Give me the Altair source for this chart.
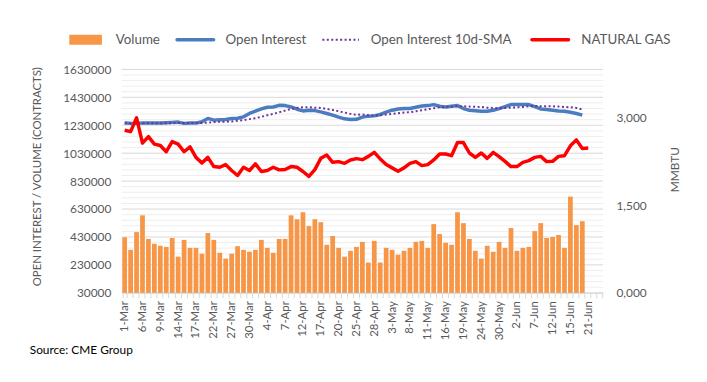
import json
import altair as alt
import pandas as pd

# ---------------- data ----------------
dates = [
    "1-Mar", "2-Mar", "3-Mar", "6-Mar", "7-Mar", "8-Mar", "9-Mar", "10-Mar", "13-Mar", "14-Mar",
    "15-Mar", "16-Mar", "17-Mar", "20-Mar", "21-Mar", "22-Mar", "23-Mar", "24-Mar", "27-Mar", "28-Mar",
    "29-Mar", "30-Mar", "31-Mar",
    "3-Apr", "4-Apr", "5-Apr", "6-Apr", "7-Apr", "10-Apr", "11-Apr", "12-Apr", "13-Apr", "14-Apr",
    "17-Apr", "18-Apr", "19-Apr", "20-Apr", "21-Apr", "24-Apr", "25-Apr", "26-Apr", "27-Apr", "28-Apr",
    "1-May", "2-May", "3-May", "4-May", "5-May", "8-May", "9-May", "10-May", "11-May", "12-May",
    "15-May", "16-May", "17-May", "18-May", "19-May", "22-May", "23-May", "24-May", "25-May", "26-May",
    "30-May", "31-May",
    "1-Jun", "2-Jun", "5-Jun", "6-Jun", "7-Jun", "8-Jun", "9-Jun", "12-Jun", "13-Jun", "14-Jun",
    "15-Jun", "16-Jun", "20-Jun", "21-Jun", "22-Jun", "23-Jun",
]

tick_labels = [
    "1-Mar", "6-Mar", "9-Mar", "14-Mar", "17-Mar", "22-Mar", "27-Mar", "30-Mar", "4-Apr", "7-Apr",
    "12-Apr", "17-Apr", "20-Apr", "25-Apr", "28-Apr", "3-May", "8-May", "11-May", "16-May", "19-May",
    "24-May", "30-May", "2-Jun", "7-Jun", "12-Jun", "15-Jun", "21-Jun",
]

volume = [
    428000, 338000, 465000, 585000, 416000, 381000, 367000, 359000, 423000, 289000,
    409000, 352000, 352000, 310000, 458000, 409000, 317000, 275000, 310000, 364000,
    338000, 324000, 338000, 409000, 352000, 317000, 416000, 416000, 585000, 557000,
    607000, 508000, 557000, 536000, 374000, 437000, 352000, 289000, 331000, 359000,
    395000, 247000, 402000, 247000, 352000, 338000, 303000, 331000, 352000, 395000,
    402000, 352000, 522000, 451000, 388000, 374000, 607000, 529000, 416000, 331000,
    275000, 367000, 324000, 395000, 352000, 494000, 331000, 352000, 359000, 472000,
    529000, 423000, 430000, 444000, 352000, 719000, 515000, 543000,
]

open_interest = [
    1248000, 1243500, 1243500, 1245600, 1245600, 1245600, 1245600, 1247800, 1250600, 1252700,
    1243500, 1245600, 1245600, 1254800, 1278900, 1266900, 1269000, 1271800, 1278900, 1280000,
    1290200, 1314300, 1330600, 1346900, 1358900, 1361000, 1373000, 1370900, 1361000, 1344800,
    1332700, 1337700, 1335000, 1325600, 1314300, 1302300, 1288100, 1276100, 1271800, 1273000,
    1288100, 1295200, 1297300, 1307200, 1323500, 1337700, 1346900, 1349700, 1349700, 1358900,
    1368100, 1370900, 1378000, 1366000, 1361000, 1366000, 1370900, 1349700, 1337700, 1334000,
    1330600, 1330600, 1337700, 1349700, 1363900, 1378000, 1378000, 1378000, 1378000, 1363900,
    1346900, 1342600, 1337700, 1332700, 1330600, 1323500, 1314300, 1302300,
]

oi_sma = [
    1243500, 1243000, 1243000, 1243500, 1244000, 1244000, 1244500, 1244500, 1245000, 1245500,
    1245500, 1245500, 1246000, 1246500, 1248000, 1252700, 1254800, 1255500, 1257000, 1263000,
    1266900, 1274000, 1281000, 1290200, 1302300, 1311500, 1323500, 1335000, 1346900, 1354000,
    1358900, 1358900, 1356000, 1354000, 1346900, 1339800, 1330600, 1321000, 1311500, 1305000,
    1307200, 1302300, 1300000, 1302300, 1307200, 1311500, 1316400, 1321000, 1323500, 1330600,
    1337700, 1344800, 1351800, 1358900, 1361000, 1363900, 1366000, 1366000, 1363900, 1362000,
    1361000, 1356000, 1354000, 1351800, 1354000, 1356000, 1358900, 1361000, 1366000, 1368100,
    1366000, 1366000, 1366000, 1363900, 1361000, 1358900, 1354000, 1342600,
]

nat_gas = [
    2.786, 2.763, 3.000, 2.566, 2.678, 2.549, 2.526, 2.419, 2.593, 2.549,
    2.419, 2.503, 2.322, 2.227, 2.322, 2.164, 2.153, 2.198, 2.097, 2.012,
    2.153, 2.097, 2.210, 2.080, 2.097, 2.153, 2.108, 2.113, 2.164, 2.153,
    2.080, 1.995, 2.113, 2.305, 2.363, 2.237, 2.249, 2.220, 2.278, 2.300,
    2.283, 2.339, 2.407, 2.295, 2.198, 2.142, 2.085, 2.142, 2.220, 2.249,
    2.181, 2.198, 2.278, 2.380, 2.380, 2.351, 2.576, 2.576, 2.397, 2.322,
    2.397, 2.305, 2.407, 2.334, 2.254, 2.164, 2.164, 2.237, 2.266, 2.322,
    2.339, 2.249, 2.254, 2.339, 2.351, 2.520, 2.622, 2.475, 2.481,
]

left_ticks = [30000, 230000, 430000, 630000, 830000, 1030000, 1230000, 1430000, 1630000]
right_ticks = [0, 1.5, 3.0]

# ---------------- styling ----------------
W, H = 487, 226
FONT = "Lato"
GREY = "#595959"
ORANGE = "#F79646"
BLUE = "#4A7DC0"
PURPLE = "#7030A0"
RED = "#FF0000"

vdf = pd.DataFrame({"date": dates[:len(volume)], "volume": volume})
oidf = pd.DataFrame({"date": dates[:len(open_interest)], "oi": open_interest, "sma": oi_sma})
gdf = pd.DataFrame({"date": dates[:len(nat_gas)], "gas": nat_gas})
gvals = list(range(30000, 1630001, 40000))
grid_df = pd.DataFrame({"v": gvals, "major": [(v - 30000) % 200000 == 0 for v in gvals]})

xscale = alt.Scale(domain=dates, paddingInner=0.2, paddingOuter=0.1)
label_expr = "indexof(" + json.dumps(tick_labels) + ", datum.value) >= 0 ? datum.value : ''"
xaxis = alt.Axis(
    title=None, labelExpr=label_expr, labelAngle=270, labelAlign="right", labelBaseline="middle",
    tickBand="extent", tickSize=5, tickColor="#D9D9D9", domainColor="#D9D9D9",
    labelPadding=3, labelFontSize=11.5, labelOverlap=False, grid=False,
)
X = alt.X("date:N", scale=xscale, axis=xaxis)

yL_scale = alt.Scale(domain=[30000, 1630000], nice=False, zero=False)
yL_axis = alt.Axis(
    values=left_ticks, format="d", grid=False, ticks=False, domain=False,
    labelPadding=11, labelFontSize=12, title="OPEN INTEREST / VOLUME (CONTRACTS)",
    titleFontSize=11.5, titleFontWeight="normal", titlePadding=20, titleY=108,
)

grid = alt.Chart(grid_df).mark_rule(strokeWidth=1).encode(
    y=alt.Y("v:Q", scale=yL_scale, axis=yL_axis),
    color=alt.condition("datum.major", alt.value("#D9D9D9"), alt.value("#EEEEEE")),
)
bars = alt.Chart(vdf).mark_bar(color=ORANGE).encode(
    x=X, y=alt.Y("volume:Q", scale=yL_scale, axis=yL_axis), y2=alt.datum(30000)
)
oi_line = alt.Chart(oidf).mark_line(color=BLUE, strokeWidth=3.5, strokeJoin="round").encode(
    x=X, y=alt.Y("oi:Q", scale=yL_scale, axis=yL_axis)
)
sma_line = alt.Chart(oidf).mark_line(color=PURPLE, strokeWidth=2, strokeDash=[2, 2.5]).encode(
    x=X, y=alt.Y("sma:Q", scale=yL_scale, axis=yL_axis)
)
left = alt.layer(grid, bars, oi_line, sma_line)

gas_line = alt.Chart(gdf).mark_line(color=RED, strokeWidth=3.5, strokeJoin="round").encode(
    x=X,
    y=alt.Y(
        "gas:Q",
        scale=alt.Scale(domain=[0, 3.83], nice=False, zero=False),
        axis=alt.Axis(
            orient="right", values=right_ticks, grid=False, ticks=False, domain=False,
            labelExpr="replace(format(datum.value, '.3f'), '.', ',')",
            labelPadding=13, labelFontSize=12, title="MMBTU", titleAngle=270,
            titleFontSize=12, titleFontWeight="normal", titlePadding=36, titleY=101,
        ),
    ),
)

# ---------------- legend & source ----------------
one = pd.DataFrame({"a": [0]})
LY = -30
leg = [
    alt.Chart(one).mark_rect(color=ORANGE).encode(
        x=alt.value(-53), x2=alt.value(-20), y=alt.value(LY - 5), y2=alt.value(LY + 5)),
    alt.Chart(one).mark_rule(color=BLUE, strokeWidth=3.5, strokeCap="round").encode(
        x=alt.value(56), x2=alt.value(93), y=alt.value(LY)),
    alt.Chart(one).mark_rule(color=PURPLE, strokeWidth=2, strokeDash=[2, 2.5]).encode(
        x=alt.value(203), x2=alt.value(240), y=alt.value(LY)),
    alt.Chart(one).mark_rule(color=RED, strokeWidth=3.5, strokeCap="round").encode(
        x=alt.value(415), x2=alt.value(452), y=alt.value(LY)),
]
for txt, xpos in [("Volume", -6), ("Open Interest", 105), ("Open Interest 10d-SMA", 252), ("NATURAL GAS", 465)]:
    leg.append(
        alt.Chart(one).mark_text(align="left", baseline="middle", font=FONT, fontSize=13.5, color=GREY).encode(
            x=alt.value(xpos), y=alt.value(LY), text=alt.value(txt))
    )
source = alt.Chart(one).mark_text(align="left", baseline="middle", font=FONT, fontSize=12, color="#000000").encode(
    x=alt.value(-93), y=alt.value(284), text=alt.value("Source: CME Group"))

chart = (
    alt.layer(left, gas_line, *leg, source)
    .resolve_scale(y="independent")
    .properties(
        width=W, height=H,
        autosize=alt.AutoSizeParams(type="none"),
        padding={"left": 115, "top": 60, "right": 97, "bottom": 80},
    )
    .configure_view(stroke=None)
    .configure_axis(labelFont=FONT, titleFont=FONT, labelColor=GREY, titleColor=GREY)
)

chart.save("out.html", embed_options={"renderer": "svg", "actions": False})
